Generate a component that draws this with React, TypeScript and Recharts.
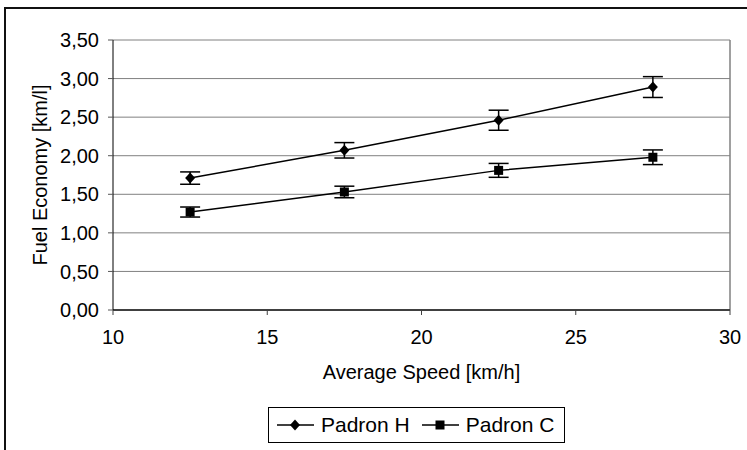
import { LineChart, Line, XAxis, YAxis, CartesianGrid, Legend, ErrorBar, ReferenceLine } from 'recharts';

const speeds = [12.5, 17.5, 22.5, 27.5];
const padronH = [1.71, 2.07, 2.46, 2.89];
const padronHErr = [0.08, 0.1, 0.13, 0.135];
const padronC = [1.27, 1.53, 1.81, 1.98];
const padronCErr = [0.065, 0.075, 0.09, 0.095];
const xTicks = [10, 15, 20, 25, 30];
const yTicks = [0, 0.5, 1, 1.5, 2, 2.5, 3, 3.5];

const hData = speeds.map((s, i) => ({ speed: s, value: padronH[i], err: padronHErr[i] }));
const cData = speeds.map((s, i) => ({ speed: s, value: padronC[i], err: padronCErr[i] }));

const FONT = '"Liberation Sans", Arial, sans-serif';

const Diamond = ({ cx, cy }: any) => (
    <polygon points={`${cx},${cy - 5.5} ${cx + 5},${cy} ${cx},${cy + 5.5} ${cx - 5},${cy}`} fill="#000" />
);
const Square = ({ cx, cy }: any) => (
    <rect x={cx - 4.5} y={cy - 4.5} width={9} height={9} fill="#000" />
);

const LegendBox = () => (
    <div style={{ border: '1px solid #000', height: 34, display: 'flex', alignItems: 'center', padding: '0 10px 0 6px', fontFamily: FONT, fontSize: 21, background: '#fff', boxSizing: 'content-box' }}>
        <svg width={40} height={20}>
            <line x1={2} y1={10} x2={39} y2={10} stroke="#000" strokeWidth={1.5} />
            <Diamond cx={20} cy={10} />
        </svg>
        <span style={{ marginLeft: 6, marginRight: 10 }}>Padron H</span>
        <svg width={40} height={20}>
            <line x1={2} y1={10} x2={39} y2={10} stroke="#000" strokeWidth={1.5} />
            <Square cx={20} cy={10} />
        </svg>
        <span style={{ marginLeft: 6 }}>Padron C</span>
    </div>
);

export default function App() {
    return (
        <div style={{ position: 'absolute', left: 0, top: 0, width: 747, height: 450, overflow: 'hidden', background: '#fff' }}>
            <div style={{ position: 'absolute', left: 4, top: 7, width: 800, height: 500, border: '2px solid #111' }} />
            <div style={{ position: 'absolute', left: 0, top: 0 }}>
                <LineChart width={747} height={450} margin={{ top: 40, right: 17, left: 0, bottom: 7 }} style={{ fontFamily: FONT }}>
                    <CartesianGrid vertical={false} stroke="#808080" strokeWidth={1} />
                    <ReferenceLine x={30} stroke="#808080" strokeWidth={1.5} />
                    <XAxis
                        type="number"
                        dataKey="speed"
                        domain={[10, 30]}
                        ticks={xTicks}
                        height={97}
                        tickSize={5}
                        tickMargin={15}
                        axisLine={{ stroke: '#404040', strokeWidth: 2 }}
                        tickLine={{ stroke: '#404040' }}
                        tick={{ fill: '#000', fontSize: 20 }}
                        label={{
                            content: ({ viewBox }: any) => (
                                <text x={viewBox.x + viewBox.width / 2} y={372} textAnchor="middle" dominantBaseline="central" fontSize={20} fill="#000">
                                    Average Speed [km/h]
                                </text>
                            ),
                        }}
                    />
                    <YAxis
                        type="number"
                        domain={[0, 3.5]}
                        ticks={yTicks}
                        width={113}
                        tickSize={5}
                        tickMargin={9}
                        axisLine={{ stroke: '#000' }}
                        tickLine={{ stroke: '#555' }}
                        tick={{ fill: '#000', fontSize: 20 }}
                        tickFormatter={(v: number) => v.toFixed(2).replace('.', ',')}
                        label={{
                            content: ({ viewBox }: any) => {
                                const x = 40;
                                const y = viewBox.y + viewBox.height / 2;
                                return (
                                    <text x={x} y={y} transform={`rotate(-90, ${x}, ${y})`} textAnchor="middle" dominantBaseline="central" fontSize={20} fill="#000">
                                        Fuel Economy [km/l]
                                    </text>
                                );
                            },
                        }}
                    />
                    <Legend verticalAlign="bottom" content={() => <LegendBox />} wrapperStyle={{ left: 268, width: 'auto', bottom: 7 }} />
                    <Line data={hData} dataKey="value" name="Padron H" stroke="#000" strokeWidth={1.5} isAnimationActive={false}
                        dot={(p: any) => <Diamond key={`h${p.index}`} cx={p.cx} cy={p.cy} />}>
                        <ErrorBar dataKey="err" direction="y" width={10} stroke="#000" strokeWidth={1.5} isAnimationActive={false} />
                    </Line>
                    <Line data={cData} dataKey="value" name="Padron C" stroke="#000" strokeWidth={1.5} isAnimationActive={false}
                        dot={(p: any) => <Square key={`c${p.index}`} cx={p.cx} cy={p.cy} />}>
                        <ErrorBar dataKey="err" direction="y" width={10} stroke="#000" strokeWidth={1.5} isAnimationActive={false} />
                    </Line>
                </LineChart>
            </div>
        </div>
    );
}
